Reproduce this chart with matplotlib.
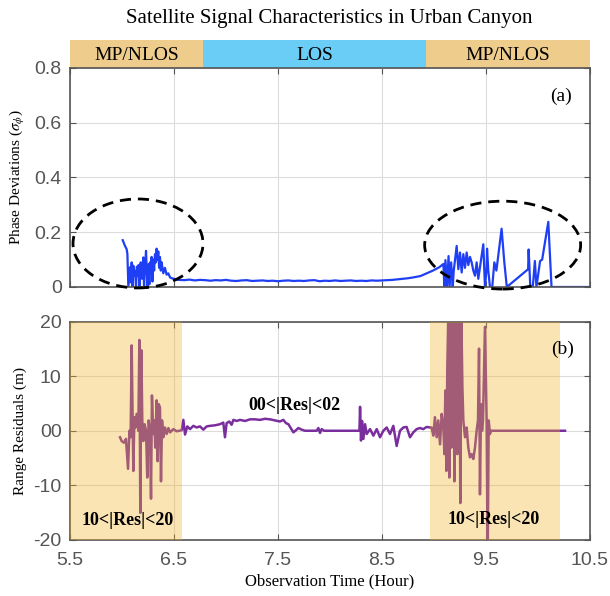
import matplotlib
matplotlib.use("Agg")
import matplotlib.pyplot as plt
from matplotlib.patches import Ellipse

plt.rcParams['mathtext.fontset'] = 'stix'

# ---------------- data ----------------
title = "Satellite Signal Characteristics in Urban Canyon"
banner_edges = [5.5, 6.78, 8.92, 10.5]
banner_labels = ["MP/NLOS", "LOS", "MP/NLOS"]
banner_colors = ["#EECC8C", "#69CDF5", "#EECC8C"]

x_ticks = [5.5, 6.5, 7.5, 8.5, 9.5, 10.5]
x_ticklabels = ["5.5", "6.5", "7.5", "8.5", "9.5", "10.5"]
a_yticks = [0, 0.2, 0.4, 0.6, 0.8]
a_yticklabels = ["0", "0.2", "0.4", "0.6", "0.8"]
b_yticks = [-20, -10, 0, 10, 20]
b_yticklabels = ["-20", "-10", "00", "10", "20"]

phase_t = [6.007, 6.029, 6.045, 6.052, 6.061, 6.077, 6.085, 6.093, 6.101, 6.109,
           6.117, 6.125, 6.135, 6.143, 6.151, 6.159, 6.167, 6.175, 6.18, 6.192,
           6.205, 6.212, 6.218, 6.231, 6.238, 6.244, 6.25, 6.257, 6.263, 6.269,
           6.277, 6.285, 6.293, 6.301, 6.309, 6.317, 6.325, 6.333, 6.341, 6.349,
           6.357, 6.365, 6.373, 6.381, 6.397, 6.413, 6.429, 6.445, 6.462, 6.478,
           6.5, 6.526, 6.55, 6.6, 6.65, 6.7, 6.75, 6.8, 6.85, 6.9, 6.95, 7.0,
           7.05, 7.1, 7.15, 7.2, 7.25, 7.3, 7.35, 7.4, 7.45, 7.5, 7.55, 7.6,
           7.65, 7.7, 7.75, 7.8, 7.85, 7.9, 7.95, 8.0, 8.05, 8.1, 8.15, 8.2,
           8.25, 8.3, 8.35, 8.4, 8.45, 8.5, 8.55, 8.6, 8.65, 8.7, 8.75, 8.8,
           8.87, 8.93, 8.99, 9.05, 9.09,
           9.10, 9.11, 9.125, 9.14, 9.15, 9.165, 9.18, 9.19, 9.218, 9.234, 9.25,
           9.266, 9.282, 9.298, 9.314, 9.33, 9.346, 9.362, 9.378, 9.394, 9.41,
           9.426, 9.474, 9.482, 9.49, 9.506, 9.51, 9.522, 9.538, 9.56, 9.58,
           9.60, 9.65, 9.675, 9.70, 9.905, 9.91, 9.926, 9.95, 9.97, 9.985, 10.02,
           10.04, 10.099, 10.13, 10.49]
phase_v = [0.171, 0.150, 0.138, 0.12, 0.0, 0.072, 0.017, 0.09, 0.0, 0.078,
           0.04, 0.06, 0.0, 0.074, 0.041, 0.08, 0.0, 0.06, 0.09, 0.03,
           0.108, 0.0, 0.05, 0.132, 0.06, 0.0, 0.07, 0.084, 0.01, 0.09,
           0.05, 0.11, 0.02, 0.1, 0.06, 0.12, 0.09, 0.14, 0.1, 0.13,
           0.07, 0.11, 0.06, 0.09, 0.05, 0.07, 0.045, 0.05, 0.035, 0.032,
           0.03, 0.027, 0.026, 0.025, 0.027, 0.024, 0.026, 0.025, 0.023, 0.025,
           0.024, 0.026, 0.023, 0.022, 0.024, 0.025, 0.022, 0.023, 0.024, 0.022,
           0.023, 0.021, 0.023, 0.024, 0.022, 0.023, 0.022, 0.024, 0.025, 0.021,
           0.023, 0.022, 0.024, 0.022, 0.023, 0.024, 0.022, 0.023, 0.022, 0.024,
           0.023, 0.024, 0.025, 0.026, 0.028, 0.03, 0.032, 0.035,
           0.04, 0.05, 0.06, 0.072, 0.084,
           0.0, 0.098, 0.0, 0.113, 0.0, 0.09, 0.0, 0.06, 0.15, 0.065, 0.126,
           0.053, 0.12, 0.07, 0.126, 0.08, 0.11, 0.09, 0.06, 0.041, 0.09,
           0.03, 0.156, 0.08, 0.0, 0.07, 0.14, 0.06, 0.0, 0.0, 0.09,
           0.06, 0.213, 0.095, 0.0, 0.065, 0.137, 0.0, 0.0, 0.095, 0.0, 0.095,
           0.1, 0.238, 0.0, 0.0]

res_t = [5.981, 5.997, 6.019, 6.038, 6.045, 6.058, 6.071, 6.083, 6.093, 6.103,
         6.109, 6.119, 6.128, 6.141, 6.157, 6.167, 6.176, 6.186, 6.195, 6.205,
         6.218, 6.231, 6.243, 6.256, 6.269, 6.279, 6.288, 6.301, 6.311, 6.32,
         6.333, 6.343, 6.353, 6.365, 6.375, 6.385, 6.397, 6.413, 6.429, 6.446,
         6.462, 6.494, 6.526, 6.574,
         6.59, 6.606, 6.628, 6.654, 6.686, 6.718, 6.75, 6.782, 6.814, 6.846,
         6.894, 6.942, 6.974, 6.99, 7.006, 7.032, 7.054, 7.071, 7.103, 7.135,
         7.183, 7.231, 7.279, 7.327, 7.375, 7.423, 7.471, 7.519, 7.551, 7.577,
         7.6, 7.622, 7.648, 7.673, 7.696, 7.728, 7.76, 7.872, 7.888, 7.904,
         7.92, 7.942, 8.272,
         8.283, 8.289, 8.298, 8.308, 8.321, 8.337, 8.353, 8.385, 8.417, 8.449,
         8.481, 8.513, 8.545, 8.577, 8.609, 8.641, 8.673, 8.705, 8.737, 8.769,
         8.801, 8.833, 8.865, 8.897, 8.929, 8.962,
         8.977, 8.994, 9.009, 9.026, 9.041, 9.058, 9.074, 9.09, 9.1, 9.109,
         9.119, 9.128, 9.138, 9.147, 9.157, 9.167, 9.176, 9.186, 9.196, 9.205,
         9.215, 9.224, 9.234, 9.244, 9.253, 9.263, 9.273, 9.282, 9.298, 9.314,
         9.33, 9.346, 9.362, 9.378, 9.394, 9.41, 9.423, 9.433, 9.442, 9.452,
         9.462, 9.471, 9.49, 9.506, 9.516, 9.526, 9.538, 9.548, 10.26]
res_v = [-1.2, -1.9, -2.2, -1.5, -3.4, -7.0, 0.0, -1.2, 15.7, 1.2,
         -7.4, 2.5, 0.6, 3.1, 0.0, 16.7, -15.1, 14.8, 1.9, -1.9,
         1.2, 0.0, -8.6, 1.9, 0.0, -12.5, 6.5, -0.6, 1.9, -3.1,
         5.6, -5.6, 4.9, 4.3, -9.3, 1.9, -1.2, 0.6, -0.6, 0.5,
         -0.3, 0.3, -0.1, 0.1,
         2.0, -0.7, 0.8, 0.3, 0.9, 0.6, 0.8, 0.2, 0.8, 0.9,
         1.0, 1.2, 1.5, -1.2, 1.4, 1.7, 1.1, 2.0, 1.8, 2.0,
         1.8, 2.1, 2.1, 2.0, 2.2, 2.1, 1.9, 1.7, 2.0, 1.4,
         1.2, 0.5, -0.3, 0.1, 0.5, 0.2, 0.0, 0.0, 0.5, -0.4,
         0.3, 0.0, 0.0,
         0.0, 4.4, -1.8, 1.8, -1.5, 1.2, -0.6, 0.3, -0.9, 0.3,
         -1.2, 0.0, 0.6, -0.6, 0.9, -2.8, 0.0, 0.6, 0.7, -1.2,
         -0.3, 0.3, 0.5, 0.3, 0.7, 0.6,
         0.6, -0.9, 2.5, -1.2, 1.9, -2.5, 3.1, 0.6, -4.3, 7.4,
         -7.4, 11.7, 22.0, -8.6, 23.0, -3.1, 14.2, 22.0, -9.3, 16.7,
         22.0, -4.3, 17.9, 21.0, -13.3, 21.0, 8.0, 1.9, -1.2, 0.6,
         -3.1, -4.9, -4.3, -5.2, -3.1, 0.0, 1.9, 15.1, -11.7, 4.9,
         0.0, 1.9, 19.1, 1.9, -24.0, 1.9, -0.6, 0.0, 0.0]

shade_spans = [(5.5, 6.58), (8.96, 10.21)]
res_labels = [("10<|Res|<20", 6.05, -16.5), ("00<|Res|<02", 7.66, 4.6), ("10<|Res|<20", 9.57, -16.3)]
ellipses = [(6.154, 0.159, 1.25, 0.325), (9.66, 0.153, 1.5, 0.321)]

# ---------------- figure ----------------
W, H = 610, 596
fig = plt.figure(figsize=(W / 100, H / 100), dpi=100)

def fx(px):
    return px / W

def fy(py):
    return 1 - py / H

left, right = 70, 590
ax_ban = fig.add_axes([fx(left), fy(68), fx(right - left), (68 - 40) / H])
ax_a = fig.add_axes([fx(left), fy(287), fx(right - left), (287 - 68) / H])
ax_b = fig.add_axes([fx(left), fy(539.5), fx(right - left), (539.5 - 322) / H])

serif = ['Liberation Serif', 'DejaVu Serif']
sans = ['Liberation Sans', 'DejaVu Sans']
spine_col = '#555555'
tick_col = '#555555'

# banner
for i, lab in enumerate(banner_labels):
    x0, x1 = banner_edges[i], banner_edges[i + 1]
    ax_ban.axvspan(x0, x1, color=banner_colors[i], lw=0)
    ax_ban.text((x0 + x1) / 2, 0.45, lab, ha='center', va='center',
                fontsize=14, family=serif)
ax_ban.set_xlim(5.5, 10.5)
ax_ban.set_ylim(0, 1)
ax_ban.axis('off')

fig.text(fx(329), fy(19), title, ha='center', va='center', fontsize=15, family=serif)

def style(ax):
    ax.set_xlim(5.5, 10.5)
    ax.set_xticks(x_ticks)
    ax.grid(True, color='#dcdcdc', lw=0.8)
    ax.set_axisbelow(True)
    ax.tick_params(direction='in', top=True, right=True, length=4, width=0.8,
                   colors=spine_col, labelcolor=tick_col, labelsize=14)
    ax.tick_params(axis='x', pad=9)
    ax.tick_params(axis='y', pad=6)
    for s in ax.spines.values():
        s.set_color(spine_col)
        s.set_linewidth(1.2)
    for lab in ax.get_xticklabels() + ax.get_yticklabels():
        lab.set_family(sans)

# panel a
ax_a.plot(phase_t, phase_v, color='#1F3FF5', lw=1.6, zorder=2)
ax_a.set_ylim(0, 0.8)
ax_a.set_yticks(a_yticks)
ax_a.set_yticklabels(a_yticklabels)
ax_a.set_xticklabels([])
style(ax_a)
for (cx, cy, w, h) in ellipses:
    ax_a.add_patch(Ellipse((cx, cy), w, h, fill=False, ls=(0, (4, 2.5)),
                           lw=2, ec='black', clip_on=False, zorder=4))
ax_a.text(10.22, 0.695, "(a)", ha='center', va='center', fontsize=14, family=serif)
ax_a.set_ylabel(r'Phase Deviations ($\sigma_\phi$)', fontsize=11, family=serif)

# panel b
ax_b.plot(res_t, res_v, color='#7A2E9E', lw=1.8, zorder=2)
for (x0, x1) in shade_spans:
    ax_b.axvspan(x0, x1, color='#F1B229', alpha=0.35, lw=0, zorder=3)
ax_b.set_ylim(-20, 20)
ax_b.set_yticks(b_yticks)
ax_b.set_yticklabels(b_yticklabels)
ax_b.set_xticklabels(x_ticklabels)
style(ax_b)
for (txt, tx, ty) in res_labels:
    ax_b.text(tx, ty, txt, ha='center', va='center', fontsize=13,
              fontweight='bold', family=serif, zorder=5)
ax_b.text(10.24, 14.9, "(b)", ha='center', va='center', fontsize=14, family=serif, zorder=5)
ax_b.set_ylabel('Range Residuals (m)', fontsize=11, family=serif)
ax_b.set_xlabel('Observation Time (Hour)', fontsize=12, family=serif, labelpad=3)

ax_a.yaxis.set_label_coords(-0.082, 0.5)
ax_b.yaxis.set_label_coords(-0.082, 0.5)

fig.savefig('out.png', dpi=100)
